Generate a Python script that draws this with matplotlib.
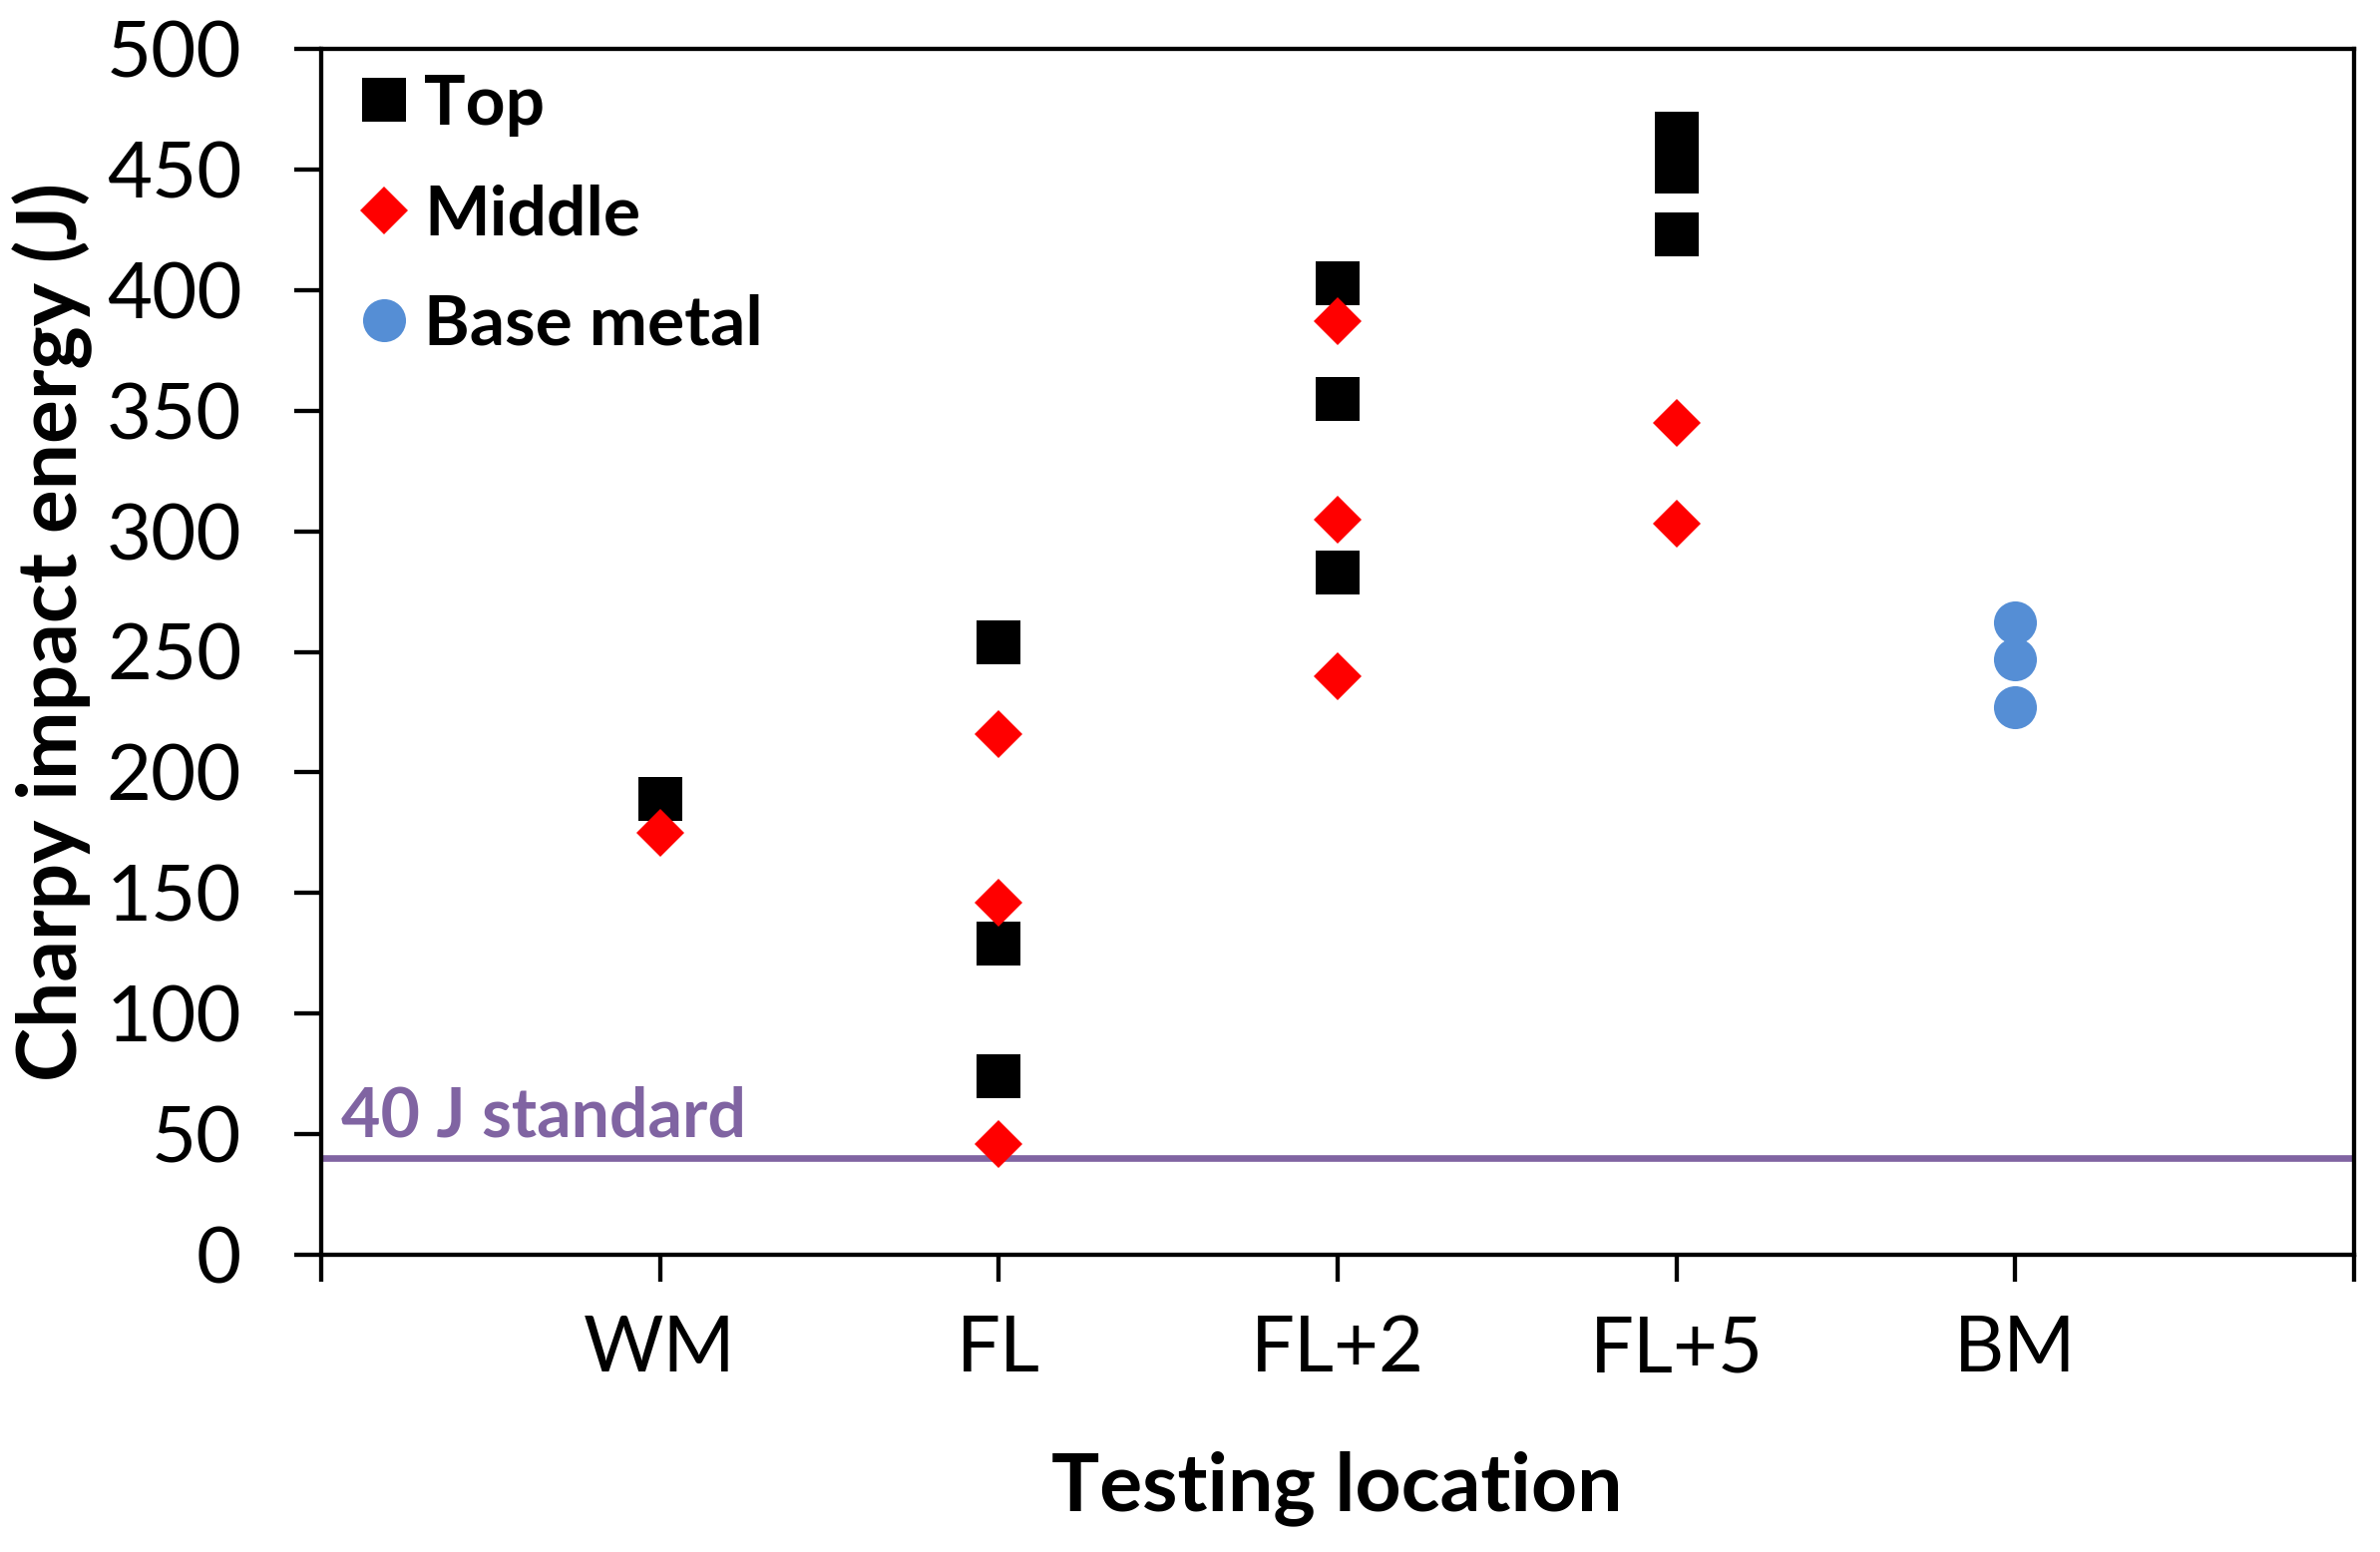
import matplotlib
matplotlib.use("Agg")
import matplotlib.pyplot as plt

# Datos
locations = ["WM", "FL", "FL+2", "FL+5", "BM"]

top_loc = [1, 2, 2, 2, 3, 3, 3, 4, 4, 4]
top_energy = [189, 254, 129, 74, 403, 355, 283, 465, 449, 423]

mid_loc = [1, 2, 2, 2, 3, 3, 3, 4, 4]
mid_energy = [175, 216, 146, 46, 387, 305, 240, 345, 303]

bm_loc = [5, 5, 5]
bm_energy = [262, 247, 227]

standard_j = 40

plt.rcParams["font.family"] = ["Lato", "DejaVu Sans"]

fig = plt.figure(figsize=(11.93, 7.78), dpi=200)
ax = fig.add_axes([322 / 2386, 298 / 1556, 2038 / 2386, 1209 / 1556])

# --------------- Puntos -----------------
ax.plot(top_loc, top_energy, ls="none", marker="s", ms=15.5, mew=0, color="black", label="Top")
ax.plot(mid_loc, mid_energy, ls="none", marker="D", ms=12, mew=0, color="#FF0000", label="Middle")
ax.plot(bm_loc, bm_energy, ls="none", marker="o", ms=15.5, mew=0, color="#558ED5", label="Base metal")

# Linea del estandar de 40 J
ax.axhline(standard_j, color="#8064A2", lw=2.4, zorder=1)
ax.text(0.06, 49, "40 J standard", color="#8064A2", fontsize=24.5, fontweight="bold",
        ha="left", va="baseline")

# --------------- Ejes -----------------
ax.set_xlim(0, 6)
ax.set_ylim(0, 500)
ax.set_xticks(range(7))
ax.set_xticklabels([""] + locations + [""])
ax.set_yticks(range(0, 501, 50))

for s in ax.spines.values():
    s.set_linewidth(1.55)
ax.tick_params(axis="y", direction="out", length=9.7, width=1.55, pad=19, labelsize=28)
ax.tick_params(axis="x", direction="out", length=9.7, width=1.55, pad=12, labelsize=28)

fig.text(53 / 2386, 1 - 633 / 1556, "Charpy impact energy (J)", rotation=90,
         ha="center", va="center", fontsize=29.5, fontweight="bold")
fig.text(1340 / 2386, 1 - 1492 / 1556, "Testing location",
         ha="center", va="center", fontsize=29, fontweight="bold")

# --------------- Leyenda -----------------
leg = ax.legend(loc="upper left", bbox_to_anchor=(0.0139, 0.9795), frameon=False,
                borderpad=0, borderaxespad=0, handlelength=1.0, handletextpad=0.08,
                labelspacing=0.68, prop={"size": 25, "weight": "bold"})

fig.savefig("out.png", dpi=200)
